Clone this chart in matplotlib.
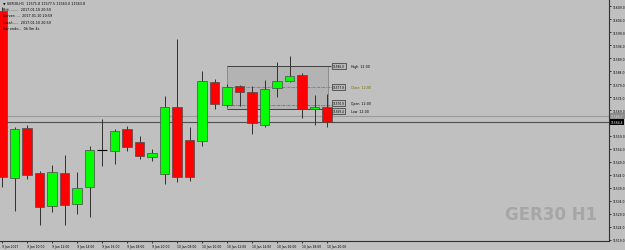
import matplotlib.pyplot as plt
from matplotlib.patches import Rectangle

# GER30 H1 candles, 9 Jan 08:00 .. 10 Jan 20:00
opens  = [11607.2, 11542.8, 11562.1, 11544.7, 11532.0, 11544.7, 11532.7, 11539.3, 11553.6, 11553.2,
          11561.7, 11556.7, 11550.9, 11544.3, 11570.2, 11557.4, 11557.1, 11579.8, 11570.9, 11578.3,
          11576.0, 11563.2, 11577.5, 11580.2, 11582.5, 11569.4, 11570.2]
highs  = [11608.8, 11562.5, 11563.2, 11545.5, 11547.8, 11551.6, 11545.1, 11555.1, 11565.5, 11561.7,
          11562.8, 11559.0, 11554.0, 11574.4, 11596.4, 11562.4, 11584.1, 11581.0, 11579.1, 11578.7,
          11578.3, 11580.6, 11587.6, 11589.9, 11583.3, 11574.8, 11575.2]
lows   = [11539.3, 11530.0, 11542.4, 11524.6, 11529.6, 11524.6, 11528.9, 11527.7, 11547.4, 11548.2,
          11553.2, 11550.1, 11549.3, 11540.4, 11541.2, 11541.6, 11555.1, 11569.4, 11570.2, 11570.6,
          11559.8, 11562.5, 11574.0, 11579.8, 11565.9, 11563.2, 11562.5]
closes = [11543.2, 11561.7, 11543.9, 11531.6, 11545.1, 11532.3, 11538.9, 11553.6, 11553.6, 11560.9,
          11554.7, 11551.3, 11552.4, 11570.2, 11543.2, 11543.2, 11580.2, 11571.3, 11577.9, 11576.0,
          11564.0, 11577.1, 11580.2, 11582.1, 11569.4, 11570.2, 11564.4]

time_labels = ["9 Jan 2017", "9 Jan 10:00", "9 Jan 12:00", "9 Jan 14:00", "9 Jan 16:00",
               "9 Jan 18:00", "9 Jan 20:00", "10 Jan 08:00", "10 Jan 10:00", "10 Jan 12:00",
               "10 Jan 14:00", "10 Jan 16:00", "10 Jan 18:00", "10 Jan 20:00"]
price_ticks = [11564.0 + 5 * k for k in range(-9, 10)]

box_high, box_close, box_open, box_low = 11586.0, 11577.9, 11570.9, 11569.4
ask_price = 11566.7
bid_price = 11564.4

bg = '#c0c0c0'
fig = plt.figure(figsize=(6.25, 2.51), dpi=100, facecolor=bg)
ax = fig.add_axes([0, 9 / 251, 609 / 625, 242 / 251], facecolor=bg)

n = len(opens)
xs = list(range(n))
ax.vlines(xs, lows, highs, color='#303030', lw=0.7, zorder=2)
for i in xs:
    o, c = opens[i], closes[i]
    if abs(c - o) < 0.05:
        ax.hlines(o, i - 0.38, i + 0.38, color='black', lw=0.8, zorder=3)
        continue
    col = '#00ff00' if c > o else '#ff0000'
    ax.add_patch(Rectangle((i - 0.38, min(o, c)), 0.76, abs(c - o), facecolor=col,
                           edgecolor='#4a4a4a', lw=0.5, zorder=3))

# range box
ax.add_patch(Rectangle((18.0, box_low), 8.1, box_high - box_low, facecolor='#b3b3b3',
                       edgecolor='#7a7a7a', lw=0.5, zorder=1))
ax.hlines(box_high, 18.0, 26.3, color='#404040', lw=0.7, zorder=1.5)
ax.hlines(box_low, 18.0, 25.8, color='#404040', lw=0.7, zorder=1.5)
ax.hlines(box_close, 18.0, 26.3, color='#808040', lw=0.6, ls=(0, (3, 1, 1, 1)), zorder=1.5)
ax.hlines(box_open, 18.0, 26.3, color='#707070', lw=0.6, ls=(0, (3, 1, 1, 1)), zorder=1.5)
for p, lab, tc, dy in [(box_high, "High  12:00", 'black', 0), (box_close, "Close  12:00", '#6a6a00', 0),
                       (box_open, "Open  12:00", 'black', 0.7), (box_low, "Low  12:00", 'black', -0.7)]:
    ax.text(26.45, p + dy, f"{p:.1f}", fontsize=2.1, va='center', ha='left', zorder=5,
            bbox=dict(boxstyle='square,pad=0.3', fc='#b8b8b8', ec='#303030', lw=0.5))
    ax.text(27.95, p + dy, lab, fontsize=2.3, va='center', ha='left', color=tc, zorder=5)

# bid / ask lines
ax.axhline(ask_price, color='#9a9a9a', lw=0.8, zorder=1)
ax.axhline(bid_price, color='#505050', lw=0.8, zorder=1)
ax.annotate(f"{ask_price:.1f}", (1.003, ask_price), xycoords=('axes fraction', 'data'),
            fontsize=2.2, va='center', ha='left', color='#e0e0e0', annotation_clip=False, zorder=6,
            bbox=dict(boxstyle='square,pad=0.35', fc='#8c8c8c', ec='none'))
ax.annotate(f"{bid_price:.1f}", (1.003, bid_price), xycoords=('axes fraction', 'data'),
            fontsize=2.2, va='center', ha='left', color='white', annotation_clip=False, zorder=6,
            bbox=dict(boxstyle='square,pad=0.35', fc='black', ec='none'))

ax.set_xlim(-0.16, 48.56)
ax.set_ylim(11564.0 - 118 / 2.59, 11564.0 + 124 / 2.59)

# the tick under the bid box is hidden in the terminal
ax.set_yticks(price_ticks)
ax.set_yticklabels(["" if abs(p - bid_price) < 2 else f"{p:.1f}" for p in price_ticks])
ax.yaxis.tick_right()
ax.tick_params(axis='y', length=1.5, width=0.5, pad=1, labelsize=2.2, colors='black')
ax.set_xticks(list(range(0, n, 2)))
ax.set_xticklabels(time_labels, ha='left')
ax.tick_params(axis='x', length=1.5, width=0.5, pad=0.8, labelsize=2.2, colors='black')

for s in ['top', 'left']:
    ax.spines[s].set_visible(False)
ax.spines['right'].set_color('#303030')
ax.spines['bottom'].set_color('#303030')
ax.spines['right'].set_linewidth(0.8)
ax.spines['bottom'].set_linewidth(0.8)

# header text
hdr = ["\u25bc GER30,H1  11571.8 11577.5 11563.0 11563.8",
       "Bid:........  2017.01.10 20:59",
       "Server:....  2017.01.10 20:59",
       "Local:.....  2017.01.10 20:59",
       "Bar ends:..  0h 0m 4s"]
for k, t in enumerate(hdr):
    fig.text(3 / 625, 1 - (4 + 6.2 * k) / 251, t, fontsize=2.4, va='center', ha='left', color='black')

fig.text(551 / 625, 1 - 215 / 251, "GER30 H1", fontsize=12, fontweight='bold', color='#a6a6a6',
         ha='center', va='center', family='DejaVu Sans')

fig.savefig('out.png', dpi=100, facecolor=bg)
